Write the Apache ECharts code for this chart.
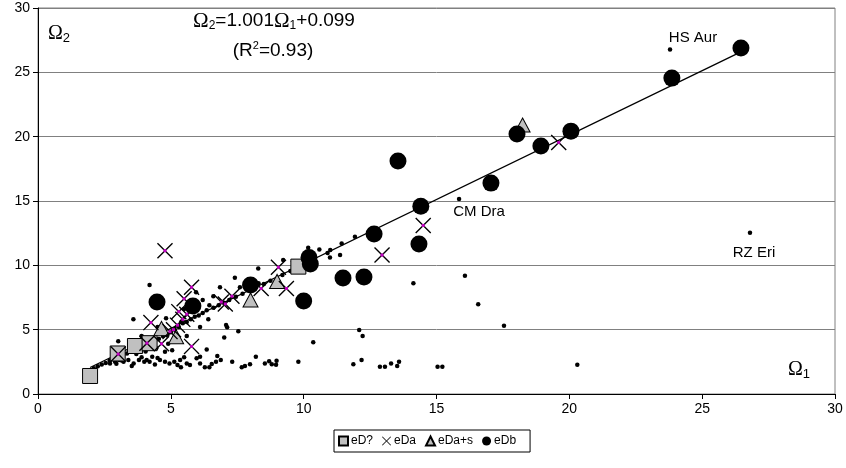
<!DOCTYPE html>
<html>
<head>
<meta charset="utf-8">
<script src="https://cdn.jsdelivr.net/npm/echarts@6/dist/echarts.min.js"></script>
<style>
  html, body { margin: 0; padding: 0; background: #fff; }
  #chart { width: 846px; height: 468px; }
</style>
</head>
<body>
<div id="chart"></div>
<script>
// Axis ticks shared by both axes (Ω1 horizontal, Ω2 vertical)
const axisTicks = [0, 5, 10, 15, 20, 25, 30];

// Legend entries
const legendNames = ['eD?', 'eDa', 'eDa+s', 'eDb'];

// eD? systems (grey squares)
const eDq = [[1.96, 1.4], [3.0, 3.15], [3.65, 3.73], [4.2, 3.95], [9.8, 9.9]];

// eDa systems (crosses)
const eDa = [
  [4.78, 11.14], [5.78, 8.3], [5.5, 7.4], [5.3, 6.4], [5.45, 5.8], [5.25, 5.35],
  [5.78, 3.7], [4.25, 5.55], [4.65, 3.9], [4.1, 3.95], [3.02, 3.1], [4.97, 4.85],
  [6.9, 7.15], [7.05, 7.0], [7.3, 7.6], [8.4, 8.2], [9.05, 9.85], [9.35, 8.2],
  [12.95, 10.8], [14.5, 13.1], [19.6, 19.55], [5.6, 6.2], [5.1, 5.0]
];

// eDa+s systems (grey triangles)
const eDaS = [[18.24, 20.9], [9.0, 8.75], [8.0, 7.3], [5.2, 4.45], [4.65, 5.1]];

// eDb systems (black dots)
const eDb = [
  [26.46, 26.9], [23.86, 24.55], [20.06, 20.43], [18.93, 19.27], [18.03, 20.2],
  [17.05, 16.39], [13.55, 18.1], [14.41, 14.6], [14.34, 11.65], [12.65, 12.43],
  [11.48, 9.01], [12.27, 9.09], [10.2, 10.6], [10.25, 10.1], [10.0, 7.23],
  [8.0, 8.47], [5.83, 6.84], [4.48, 7.15]
];

// Remaining systems of the sample (small points, not in the legend)
const otherStars = [
  [14.13, 8.6], [16.07, 9.19], [16.57, 6.97], [17.54, 5.31], [12.87, 2.12], [13.06, 2.12],
  [13.29, 2.38], [13.52, 2.18], [13.59, 2.51], [15.04, 2.12], [15.22, 2.12], [20.3, 2.28],
  [11.93, 12.22], [11.43, 11.7], [10.99, 10.6], [11.37, 10.8], [10.59, 11.24], [10.17, 11.37],
  [9.23, 10.41], [8.29, 9.76], [7.41, 9.04], [6.85, 8.29], [6.45, 6.9], [6.41, 5.8],
  [7.08, 5.36], [7.12, 5.18], [7.54, 4.88], [7.01, 4.4], [6.35, 3.45], [6.75, 2.95],
  [6.88, 2.64], [6.7, 2.5], [6.54, 2.33], [6.45, 2.07], [6.28, 2.07], [6.1, 2.38],
  [7.31, 2.51], [7.67, 2.07], [7.79, 2.18], [7.98, 2.31], [8.2, 2.9], [8.54, 2.38],
  [8.7, 2.54], [8.8, 2.31], [8.98, 2.59], [8.96, 2.28], [9.8, 2.51], [10.36, 4.02],
  [12.09, 4.97], [12.22, 4.51], [11.87, 2.31], [12.18, 2.64],
  [4.2, 8.47], [3.59, 5.8], [3.02, 4.1], [4.82, 5.88], [4.78, 3.29],
  [4.2, 2.5], [4.4, 2.3], [4.59, 2.64], [4.78, 2.51], [4.95, 2.38], [5.13, 2.51],
  [5.25, 2.25], [5.38, 2.07], [5.6, 2.38], [5.72, 2.25], [5.97, 2.77], [6.1, 2.9],
  [5.5, 2.85], [5.35, 2.64], [4.0, 2.51], [3.8, 2.64], [3.6, 2.38], [3.4, 2.64],
  [3.22, 2.51], [3.05, 2.64], [2.9, 2.51], [2.71, 2.38], [3.53, 2.18], [4.09, 2.64],
  [4.5, 2.8], [3.9, 2.85], [4.3, 2.9],
  [2.1, 2.0], [2.25, 2.15], [2.4, 2.3], [2.55, 2.4], [2.7, 2.6], [2.85, 2.7],
  [3.2, 3.0], [3.35, 3.15], [3.5, 3.3], [3.8, 3.5], [3.95, 3.7], [4.4, 4.1],
  [4.55, 4.3], [4.7, 4.5], [4.85, 4.6], [5.0, 4.8], [5.15, 5.0], [5.3, 5.2],
  [5.45, 5.5], [5.6, 5.6], [5.75, 5.8], [5.9, 6.0], [6.05, 6.1], [6.2, 6.3],
  [6.35, 6.5], [6.6, 6.7], [6.8, 6.9], [7.0, 7.1], [7.2, 7.3], [7.45, 7.55],
  [7.7, 7.8], [8.2, 8.3], [8.5, 8.55], [8.75, 8.8], [9.2, 9.25], [9.5, 9.55],
  [9.9, 10.0], [10.4, 10.5], [10.9, 10.95],
  [5.5, 6.6], [6.1, 5.2], [5.2, 4.2], [4.9, 3.9], [5.6, 4.5], [3.9, 4.5],
  [4.5, 5.2], [6.6, 7.6], [6.2, 7.3], [5.95, 7.9], [7.6, 8.3], [8.3, 8.6],
  [9.6, 10.3], [10.3, 10.9], [11.0, 11.2], [3.7, 3.1], [4.05, 3.3], [4.45, 3.55],
  [5.05, 3.4], [2.95, 2.35], [3.15, 2.6]
];

// Individually labelled systems
const namedStars = ['HS Aur', 'CM Dra', 'RZ Eri'];
const namedValues = [[23.79, 26.78], [15.85, 15.15], [26.8, 12.54]];

// Least-squares fit Ω2 = 1.001 Ω1 + 0.099, drawn over the sample range
const fitLine = [[1.96, 2.06], [26.46, 26.59]];

const labelOffsets = { 'HS Aur': [23, -12], 'CM Dra': [20, 13], 'RZ Eri': [4, 20] };

const crossPath = 'path://M0,1.2 L1.2,0 L10,8.8 L18.8,0 L20,1.2 L11.2,10 L20,18.8 L18.8,20 L10,11.2 L1.2,20 L0,18.8 L8.8,10 Z';
const SANS = '"Liberation Sans", Arial, sans-serif';
const SERIF = '"Liberation Serif", "Times New Roman", serif';

const chart = echarts.init(document.getElementById('chart'), null, { renderer: 'canvas' });

const axisCommon = {
  type: 'value',
  min: axisTicks[0],
  max: axisTicks[axisTicks.length - 1],
  interval: axisTicks[1] - axisTicks[0],
  axisLine: { show: true, onZero: false, lineStyle: { color: '#000', width: 1 } },
  axisTick: { show: true, length: 5, lineStyle: { color: '#000', width: 1 } },
  axisLabel: { color: '#000', fontFamily: SANS, fontSize: 14, margin: 8 }
};

chart.setOption({
  animation: false,
  backgroundColor: '#fff',
  grid: {
    left: 38, right: 11, top: 8, bottom: 74,
    show: true, borderColor: '#808080', borderWidth: 1, backgroundColor: 'transparent'
  },
  xAxis: Object.assign({}, axisCommon, { splitLine: { show: false } }),
  yAxis: Object.assign({}, axisCommon, {
    splitLine: { show: true, lineStyle: { color: '#808080', width: 1 } }
  }),
  legend: {
    data: legendNames,
    left: 334, bottom: 16,
    orient: 'horizontal',
    padding: [5, 14, 5, 4],
    itemGap: 9,
    itemWidth: 9, itemHeight: 9,
    borderColor: '#000', borderWidth: 1,
    backgroundColor: '#fff',
    textStyle: { color: '#000', fontFamily: SANS, fontSize: 12, padding: [0, 0, 0, -2] }
  },
  series: [
    {
      name: 'other', type: 'scatter', data: otherStars,
      symbol: 'circle', symbolSize: 4.5,
      itemStyle: { color: '#000', opacity: 1 }, z: 2
    },
    {
      name: 'named', type: 'scatter',
      data: namedStars.map((n, i) => ({
        name: n, value: namedValues[i],
        label: { show: true, position: 'inside', offset: labelOffsets[n], formatter: n }
      })),
      symbol: 'circle', symbolSize: 4.5,
      itemStyle: { color: '#000', opacity: 1 },
      label: { color: '#000', fontFamily: SANS, fontSize: 15 },
      z: 2
    },
    {
      name: 'fit', type: 'line', data: fitLine,
      showSymbol: false, symbol: 'none',
      lineStyle: { color: '#000', width: 1.3 }, z: 3, silent: true
    },
    {
      name: 'eD?', type: 'scatter', data: eDq,
      symbol: 'rect', symbolSize: 15,
      itemStyle: { color: '#c0c0c0', borderColor: '#000', borderWidth: 1, opacity: 1 }, z: 4
    },
    {
      name: 'eDa+s', type: 'scatter', data: eDaS,
      symbol: 'triangle', symbolSize: [15, 14],
      itemStyle: { color: '#c0c0c0', borderColor: '#000', borderWidth: 1, opacity: 1 }, z: 5
    },
    {
      name: 'eDb', type: 'scatter', data: eDb,
      symbol: 'circle', symbolSize: 17,
      itemStyle: { color: '#000', opacity: 1 }, z: 6
    },
    {
      name: 'eDa', type: 'scatter', data: eDa,
      symbol: crossPath, symbolSize: 16,
      itemStyle: { color: '#000', opacity: 1 }, z: 7
    },
    {
      name: 'eDa centre', type: 'scatter', data: eDa,
      symbol: 'rect', symbolSize: 3,
      itemStyle: { color: '#c000c0', opacity: 1 }, z: 8
    }
  ],
  graphic: [
    {
      type: 'text', x: 274, y: 21, z: 20,
      style: {
        text: '{o|Ω}{s|2}{t|=1.001}{o|Ω}{s|1}{t|+0.099}',
        align: 'center', verticalAlign: 'middle',
        rich: {
          o: { fontFamily: SERIF, fontSize: 21, lineHeight: 22, fill: '#000' },
          s: { fontFamily: SANS, fontSize: 12, lineHeight: 13, verticalAlign: 'bottom', fill: '#000' },
          t: { fontFamily: SANS, fontSize: 19, lineHeight: 22, fill: '#000' }
        }
      }
    },
    {
      type: 'text', x: 273, y: 51, z: 20,
      style: {
        text: '{t|(R}{p|2}{t|=0.93)}',
        align: 'center', verticalAlign: 'middle',
        rich: {
          t: { fontFamily: SANS, fontSize: 19, lineHeight: 22, fill: '#000' },
          p: { fontFamily: SANS, fontSize: 11, lineHeight: 11, verticalAlign: 'top', fill: '#000' }
        }
      }
    },
    {
      type: 'text', x: 48, y: 34, z: 20,
      style: {
        text: '{o|Ω}{s|2}',
        align: 'left', verticalAlign: 'middle',
        rich: {
          o: { fontFamily: SERIF, fontSize: 20, lineHeight: 22, fill: '#000' },
          s: { fontFamily: SANS, fontSize: 13, lineHeight: 13, verticalAlign: 'bottom', fill: '#000' }
        }
      }
    },
    {
      type: 'text', x: 788, y: 370, z: 20,
      style: {
        text: '{o|Ω}{s|1}',
        align: 'left', verticalAlign: 'middle',
        rich: {
          o: { fontFamily: SERIF, fontSize: 20, lineHeight: 22, fill: '#000' },
          s: { fontFamily: SANS, fontSize: 13, lineHeight: 13, verticalAlign: 'bottom', fill: '#000' }
        }
      }
    }
  ]
});
</script>
</body>
</html>
